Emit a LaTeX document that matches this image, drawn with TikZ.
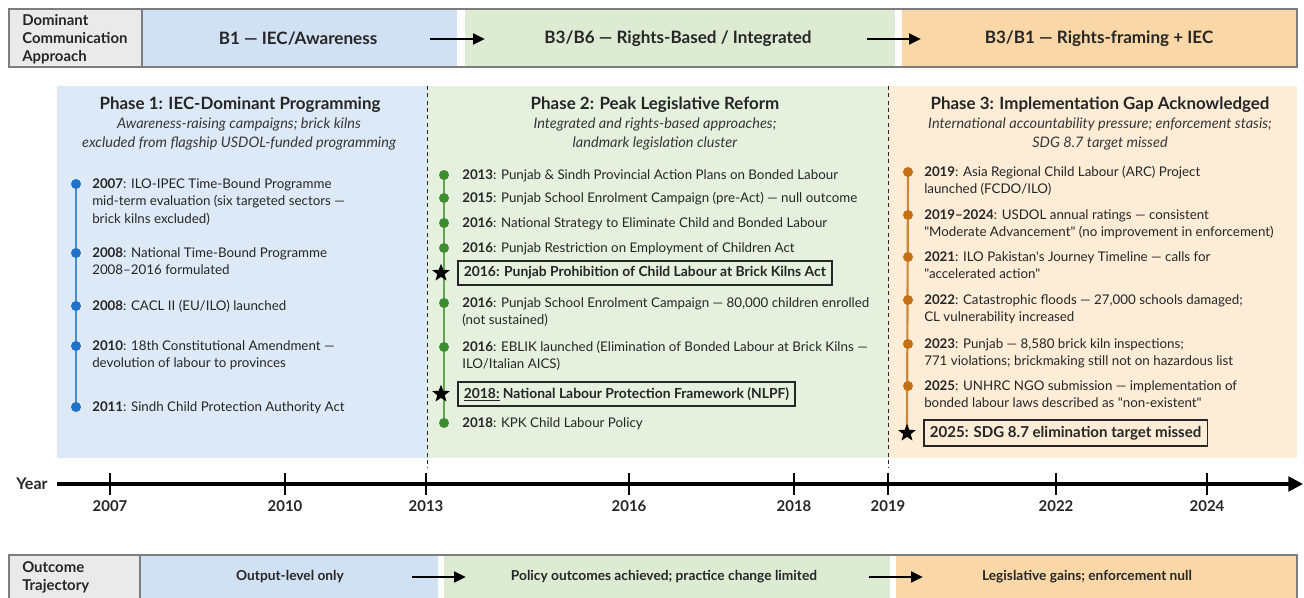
\documentclass[tikz,border=0pt]{standalone}
\usepackage{fontspec}
\setmainfont{Lato}[Ligatures=TeXOff]
\usetikzlibrary{arrows.meta,shapes.geometric,backgrounds}
\pgfdeclarelayer{lines}
\pgfsetlayers{background,lines,main}

\definecolor{ink}{RGB}{38,38,38}
\definecolor{ink2}{RGB}{55,55,55}
\definecolor{rimgray}{RGB}{125,125,125}
\definecolor{grayCell}{RGB}{234,234,234}
\definecolor{blueCell}{RGB}{208,225,243}
\definecolor{greenCell}{RGB}{221,235,211}
\definecolor{orangeCell}{RGB}{250,215,167}
\definecolor{bluePanel}{RGB}{221,233,246}
\definecolor{greenPanel}{RGB}{229,240,222}
\definecolor{orangePanel}{RGB}{253,236,214}
\definecolor{dotBlue}{RGB}{30,115,200}
\definecolor{lineBlue}{RGB}{75,140,210}
\definecolor{dotGreen}{RGB}{62,140,50}
\definecolor{lineGreen}{RGB}{100,165,80}
\definecolor{dotOrange}{RGB}{196,112,22}
\definecolor{lineOrange}{RGB}{205,135,55}

\newcommand\yrb[1]{\textbf{#1}}
% event text block whose baseline is that of its first line
\newcommand\lns[1]{\begin{tabular}[t]{@{}l@{}}#1\end{tabular}}

\tikzset{
  rim/.style={draw=rimgray, line width=0.9pt},
  rowlabel/.style={anchor=west, align=left, inner sep=0pt, text=ink,
    font=\bfseries\fontsize{11.2}{13.5}\selectfont},
  rowtext/.style={inner sep=0pt, text=ink, font=\bfseries\fontsize{12.8}{14}\selectfont},
  rowtextsmall/.style={inner sep=0pt, text=ink, font=\bfseries\fontsize{10.3}{12}\selectfont},
  flow/.style={line width=2pt, -{Triangle[length=9pt,width=8pt]}},
  sep/.style={draw=ink, line width=0.7pt, dash pattern=on 3pt off 2.5pt},
  phasetitle/.style={inner sep=0pt, text=ink, font=\bfseries\fontsize{12.7}{15}\selectfont},
  phasesub/.style={inner sep=0pt, align=center, text=ink2, font=\itshape\fontsize{10.9}{14.25}\selectfont},
  item/.style={anchor=base west, inner sep=0pt, text=ink,
    font=\fontsize{10}{13.1}\selectfont},
  dot/.style={circle, fill=#1, inner sep=0pt, minimum size=7.5pt},
  keystar/.style={star, star points=5, star point ratio=2.4, fill=black, draw=none,
    inner sep=0pt, minimum size=14pt},
  keybox/.style={draw=ink, line width=1.3pt, anchor=west, inner xsep=4.5pt, inner ysep=0pt,
    minimum height=17.5pt, text=ink, font=\bfseries\fontsize{10.4}{12}\selectfont},
  bigkeybox/.style={keybox, minimum height=19.5pt, font=\bfseries\fontsize{11.3}{13}\selectfont},
  axisline/.style={line width=2.4pt, -{Triangle[length=11pt,width=11pt]}},
  tick/.style={line width=1.6pt},
  yearlabel/.style={inner sep=0pt, text=ink, font=\bfseries\fontsize{11.2}{13}\selectfont},
}

\begin{document}
\begin{tikzpicture}[x=0.75pt,y=-0.75pt]
\useasboundingbox (0,0) rectangle (1304,598);

% ---------- top row: dominant communication approach ----------
\fill[grayCell] (9,9) rectangle (142,67);
\fill[blueCell] (142,9) rectangle (457,67);
\fill[greenCell] (465,9) rectangle (895,67);
\fill[orangeCell] (902,9) rectangle (1297,67);
\draw[rim] (9,9) rectangle (1297,67);
\draw[rim] (142,9) -- (142,67);
\node[rowlabel] (topLabel) at (22,39.5) {Dominant\\Communication\\Approach};
\node[rowtext] (topB1) at (298,39) {B1 — IEC/Awareness};
\node[rowtext] (topB36) at (678,39) {B3/B6 — Rights-Based / Integrated};
\node[rowtext] (topB31) at (1099,39) {B3/B1 — Rights-framing + IEC};
\coordinate (ta1s) at (430,39); \coordinate (ta1e) at (485,39);
\coordinate (ta2s) at (867,39); \coordinate (ta2e) at (921,39);
\draw[flow] (ta1s) -- (ta1e);
\draw[flow] (ta2s) -- (ta2e);

% ---------- phase panels ----------
\begin{pgfonlayer}{background}
\fill[bluePanel] (57,86) rectangle (427,458);
\fill[greenPanel] (427,86) rectangle (888,458);
\fill[orangePanel] (888,86) rectangle (1297,458);
\end{pgfonlayer}
\coordinate (sepAtop) at (427,86); \coordinate (sepAbot) at (427,468);
\coordinate (sepBtop) at (888,86); \coordinate (sepBbot) at (888,468);
\draw[sep] (sepAtop) -- (sepAbot);
\draw[sep] (sepBtop) -- (sepBbot);

\node[phasetitle] (t1) at (240,105) {Phase 1: IEC-Dominant Programming};
\node[phasesub] (s1) at (239,134) {Awareness-raising campaigns; brick kilns\\excluded from flagship USDOL-funded programming};
\node[phasetitle] (t2) at (655,105) {Phase 2: Peak Legislative Reform};
\node[phasesub] (s2) at (655,134) {Integrated and rights-based approaches;\\landmark legislation cluster};
\node[phasetitle] (t3) at (1100,105) {Phase 3: Implementation Gap Acknowledged};
\node[phasesub] (s3) at (1100,134) {International accountability pressure; enforcement stasis;\\SDG 8.7 target missed};

% ---------- phase 1 events ----------
\node[dot=dotBlue] (b1) at (76,184) {};
\node[dot=dotBlue] (b2) at (76,253) {};
\node[dot=dotBlue] (b3) at (76,306) {};
\node[dot=dotBlue] (b4) at (76,346) {};
\node[dot=dotBlue] (b5) at (76,407) {};
\begin{pgfonlayer}{lines}
\draw[lineBlue, line width=1.6pt] (b1.center) -- (b5.center);
\end{pgfonlayer}
\node[item] (e1) at (92,188.5) {\lns{\yrb{2007}: ILO-IPEC Time-Bound Programme\\mid-term evaluation (six targeted sectors —\\brick kilns excluded)}};
\node[item] (e2) at (92,257.5) {\lns{\yrb{2008}: National Time-Bound Programme\\2008–2016 formulated}};
\node[item] (e3) at (92,310.5) {\lns{\yrb{2008}: CACL II (EU/ILO) launched}};
\node[item] (e4) at (92,350.5) {\lns{\yrb{2010}: 18th Constitutional Amendment —\\devolution of labour to provinces}};
\node[item] (e5) at (92,411.5) {\lns{\yrb{2011}: Sindh Child Protection Authority Act}};

% ---------- phase 2 events ----------
\node[dot=dotGreen] (g1) at (444,175) {};
\node[dot=dotGreen] (g2) at (444,198) {};
\node[dot=dotGreen] (g3) at (444,223) {};
\node[dot=dotGreen] (g4) at (444,248) {};
\node[keystar] (gs1) at (441,273) {};
\node[dot=dotGreen] (g6) at (444,303) {};
\node[dot=dotGreen] (g7) at (444,347) {};
\node[keystar] (gs2) at (441,394) {};
\node[dot=dotGreen] (g9) at (444,423) {};
\begin{pgfonlayer}{lines}
\draw[lineGreen, line width=1.6pt] (g1.center) -- (g9.center);
\end{pgfonlayer}
\node[item] (f1) at (462,179.5) {\lns{\yrb{2013}: Punjab \& Sindh Provincial Action Plans on Bonded Labour}};
\node[item] (f2) at (462,202.5) {\lns{\yrb{2015}: Punjab School Enrolment Campaign (pre-Act) — null outcome}};
\node[item] (f3) at (462,227.5) {\lns{\yrb{2016}: National Strategy to Eliminate Child and Bonded Labour}};
\node[item] (f4) at (462,252.5) {\lns{\yrb{2016}: Punjab Restriction on Employment of Children Act}};
\node[keybox] (f5) at (457,273) {2016: Punjab Prohibition of Child Labour at Brick Kilns Act};
\node[item] (f6) at (462,307.5) {\lns{\yrb{2016}: Punjab School Enrolment Campaign — 80,000 children enrolled\\(not sustained)}};
\node[item] (f7) at (462,351.5) {\lns{\yrb{2016}: EBLIK launched (Elimination of Bonded Labour at Brick Kilns —\\ILO/Italian AICS)}};
\node[keybox] (f8) at (457,394) {\underline{2018:} National Labour Protection Framework (NLPF)};
\node[item] (f9) at (462,427.5) {\lns{\yrb{2018}: KPK Child Labour Policy}};

% ---------- phase 3 events ----------
\node[dot=dotOrange] (o1) at (908,172) {};
\node[dot=dotOrange] (o2) at (908,215) {};
\node[dot=dotOrange] (o3) at (908,257) {};
\node[dot=dotOrange] (o4) at (908,300) {};
\node[dot=dotOrange] (o5) at (908,344) {};
\node[dot=dotOrange] (o6) at (908,386) {};
\node[keystar] (os) at (907,433) {};
\begin{pgfonlayer}{lines}
\draw[lineOrange, line width=1.6pt] (o1.center) -- (os.center);
\end{pgfonlayer}
\node[item] (h1) at (924,176.5) {\lns{\yrb{2019}: Asia Regional Child Labour (ARC) Project\\launched (FCDO/ILO)}};
\node[item] (h2) at (924,219.5) {\lns{\yrb{2019–2024}: USDOL annual ratings — consistent\\"Moderate Advancement" (no improvement in enforcement)}};
\node[item] (h3) at (924,261.5) {\lns{\yrb{2021}: ILO Pakistan's Journey Timeline — calls for\\"accelerated action"}};
\node[item] (h4) at (924,304.5) {\lns{\yrb{2022}: Catastrophic floods — 27,000 schools damaged;\\CL vulnerability increased}};
\node[item] (h5) at (924,348.5) {\lns{\yrb{2023}: Punjab — 8,580 brick kiln inspections;\\771 violations; brickmaking still not on hazardous list}};
\node[item] (h6) at (924,390.5) {\lns{\yrb{2025}: UNHRC NGO submission — implementation of\\bonded labour laws described as "non-existent"}};
\node[bigkeybox] (h7) at (923,433) {2025: SDG 8.7 elimination target missed};

% ---------- year axis ----------
\node[inner sep=0pt, text=ink, font=\bfseries\fontsize{12}{13}\selectfont] (yearTag) at (32,484) {Year};
\coordinate (axStart) at (57,484);
\coordinate (axEnd) at (1303,484);
\draw[axisline] (axStart) -- (axEnd);
\foreach \yx/\yv in {110/2007, 285/2010, 426/2013, 629/2016, 794/2018, 888/2019, 1056/2022, 1207/2024}{
  \draw[tick] (\yx,473) -- (\yx,495);
  \node[yearlabel] (yl\yv) at (\yx,506) {\yv};
}

% ---------- bottom row: outcome trajectory ----------
\fill[grayCell] (9,555) rectangle (140,604);
\fill[blueCell] (140,555) rectangle (438,604);
\fill[greenCell] (444,555) rectangle (890,604);
\fill[orangeCell] (896,555) rectangle (1297,604);
\draw[rim] (9,555) rectangle (1297,604);
\draw[rim] (140,555) -- (140,604);
\node[rowlabel] (botLabel) at (22,577) {Outcome\\Trajectory};
\node[rowtextsmall] (botA) at (290,577) {Output-level only};
\node[rowtextsmall] (botB) at (664,577) {Policy outcomes achieved; practice change limited};
\node[rowtextsmall] (botC) at (1087,577) {Legislative gains; enforcement null};
\coordinate (ba1s) at (412,577); \coordinate (ba1e) at (466,577);
\coordinate (ba2s) at (869,577); \coordinate (ba2e) at (923,577);
\draw[flow] (ba1s) -- (ba1e);
\draw[flow] (ba2s) -- (ba2e);
\end{tikzpicture}
\end{document}
